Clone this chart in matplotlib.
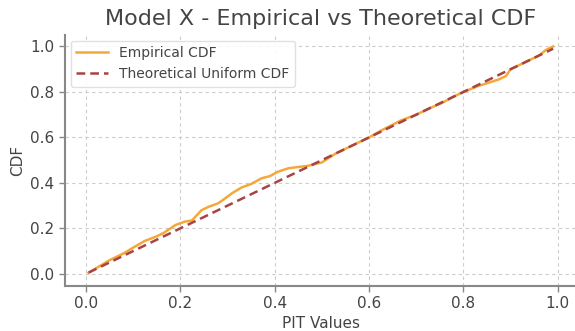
import matplotlib
matplotlib.use("Agg")
import matplotlib.pyplot as plt

pit_values = [0.006, 0.03, 0.05, 0.08, 0.10, 0.125, 0.15, 0.165, 0.19, 0.21, 0.225,
              0.245, 0.26, 0.28, 0.294, 0.31, 0.33, 0.35, 0.372, 0.39, 0.408, 0.43,
              0.45, 0.47, 0.50, 0.53, 0.56, 0.60, 0.63, 0.668, 0.70, 0.73, 0.753,
              0.78, 0.80, 0.83, 0.86, 0.875, 0.89, 0.90, 0.93, 0.96, 0.975, 0.99]
empirical_cdf = [0.005, 0.035, 0.06, 0.09, 0.115, 0.145, 0.165, 0.18, 0.215, 0.23, 0.235,
                 0.28, 0.295, 0.31, 0.33, 0.355, 0.38, 0.395, 0.42, 0.43, 0.45, 0.465,
                 0.47, 0.475, 0.49, 0.53, 0.56, 0.60, 0.635, 0.675, 0.70, 0.73, 0.75,
                 0.78, 0.80, 0.825, 0.845, 0.855, 0.87, 0.90, 0.93, 0.96, 0.985, 1.0]
theoretical_cdf = list(pit_values)

title = "Model X - Empirical vs Theoretical CDF"
xlabel = "PIT Values"
ylabel = "CDF"
labels = ["Empirical CDF", "Theoretical Uniform CDF"]

text_color = "#444444"
fig = plt.figure(figsize=(5.75, 3.31), dpi=100)
ax = fig.add_axes([0.113, 0.136, 0.89, 0.758])

ax.plot(pit_values, empirical_cdf, color="#f5a83a", lw=1.8, label=labels[0])
ax.plot(pit_values, theoretical_cdf, color="#a84444", lw=1.8, ls=(0, (3.5, 2)), label=labels[1])

ax.set_xlim(-0.044, 1.04)
ax.set_ylim(-0.053, 1.05)
ax.set_xticks([0.0, 0.2, 0.4, 0.6, 0.8, 1.0])
ax.set_yticks([0.0, 0.2, 0.4, 0.6, 0.8, 1.0])

ax.grid(True, ls=(0, (3, 3)), color="#cccccc", lw=0.8)
ax.set_axisbelow(True)
for s in ["top", "right"]:
    ax.spines[s].set_visible(False)
for s in ["left", "bottom"]:
    ax.spines[s].set_color("#888888")
    ax.spines[s].set_linewidth(1.5)
ax.tick_params(colors="#888888", labelcolor=text_color, labelsize=11, length=4, width=1)

ax.set_title(title, fontsize=16, color=text_color, pad=7)
ax.set_xlabel(xlabel, fontsize=11, color=text_color, labelpad=3)
ax.set_ylabel(ylabel, fontsize=11, color=text_color, labelpad=4)

leg = ax.legend(loc="upper left", fontsize=10, labelcolor=text_color, frameon=True,
                framealpha=0.9, edgecolor="#dddddd", handlelength=2.3,
                borderaxespad=0.4)

fig.savefig("out.png", dpi=100)
